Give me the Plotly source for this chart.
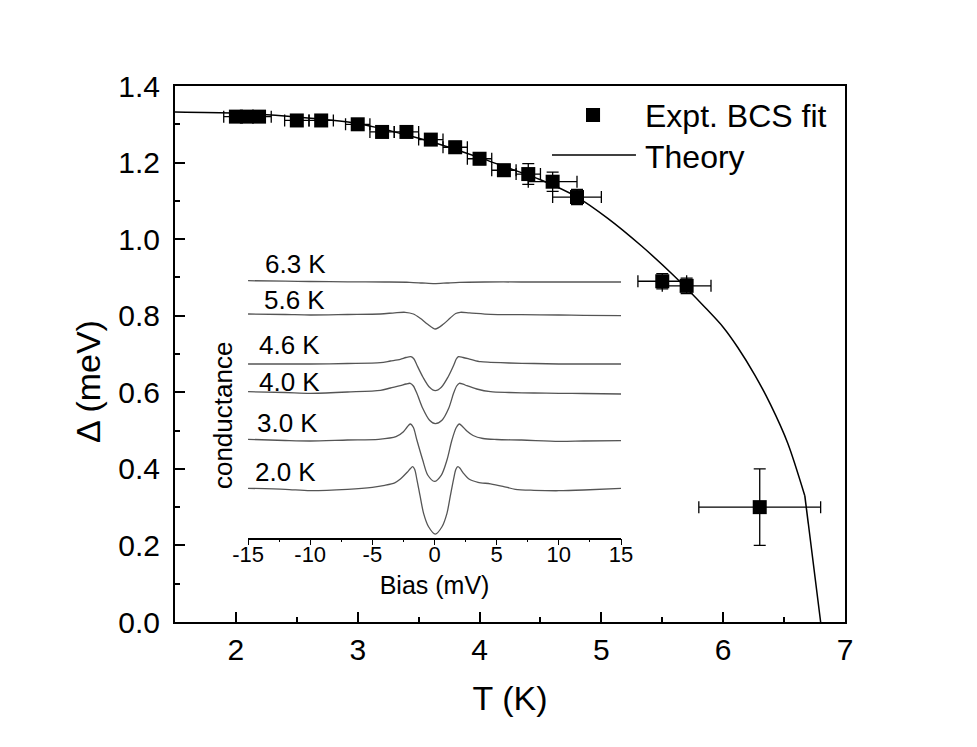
import plotly.graph_objects as go

# ---------------- main panel data ----------------
T_expt = [2.0, 2.09, 2.19, 2.5, 2.7, 3.0, 3.2, 3.4, 3.6, 3.8, 4.0, 4.2, 4.4, 4.6, 4.8, 5.5, 5.7, 6.3]
D_expt = [1.32, 1.32, 1.32, 1.31, 1.31, 1.30, 1.28, 1.28, 1.26, 1.24, 1.21, 1.18, 1.17, 1.15, 1.11, 0.89, 0.878, 0.30]
T_err = [0.1, 0.1, 0.1, 0.1, 0.1, 0.1, 0.1, 0.1, 0.1, 0.1, 0.1, 0.1, 0.1, 0.2, 0.2, 0.2, 0.2, 0.5]
D_err = [0.015, 0.015, 0.015, 0.015, 0.015, 0.015, 0.015, 0.015, 0.015, 0.015, 0.015, 0.015, 0.027, 0.025, 0.02, 0.02, 0.02, 0.1]

# smooth part of the theory curve, then its last straight segment to Tc
T_theory = [1.5, 2.0, 2.5, 3.0, 3.4, 3.65, 4.0, 4.2, 4.5, 4.8, 5.05, 5.33, 5.6, 5.85, 6.0, 6.12, 6.26, 6.39, 6.53, 6.67]
D_theory = [1.332, 1.329, 1.319, 1.302, 1.272, 1.250, 1.213, 1.190, 1.155, 1.110, 1.055, 0.982, 0.903, 0.822, 0.770, 0.717, 0.645, 0.567, 0.467, 0.330]
T_theory_end = [6.67, 6.80]
D_theory_end = [0.330, 0.0]

# ---------------- inset data (normalised conductance) ----------------
bias_20 = [-15, -12, -10, -7, -5, -4, -3.2, -2.77, -2.2, -1.95, -1.77, -1.6, -1.42, -1.15, -0.88, -0.48, 0.06, 0.6, 1.0, 1.26, 1.53, 1.72, 1.88, 2.05, 2.33, 2.8, 3.5, 4.5, 5.5, 6.5, 8, 10, 12, 15]
g_20 = [1.00, 0.99, 0.976, 0.99, 1.01, 1.03, 1.055, 1.09, 1.16, 1.195, 1.216, 1.19, 1.09, 0.916, 0.75, 0.616, 0.543, 0.616, 0.75, 0.916, 1.09, 1.19, 1.216, 1.20, 1.15, 1.09, 1.06, 1.045, 1.02, 0.99, 0.98, 0.976, 0.983, 1.00]

bias_30 = [-15, -12, -10, -7, -4.5, -3.1, -2.5, -2.2, -1.95, -1.7, -1.42, -0.95, -0.55, 0.0, 0.55, 1.0, 1.4, 1.75, 2.0, 2.25, 2.6, 3.1, 3.9, 5, 7, 10, 12, 15]
g_30 = [1.007, 0.995, 0.99, 1.0, 1.007, 1.033, 1.083, 1.13, 1.16, 1.125, 1.0, 0.80, 0.65, 0.587, 0.65, 0.80, 1.0, 1.125, 1.16, 1.135, 1.09, 1.045, 1.015, 1.005, 1.0, 0.987, 0.99, 0.993]

bias_40 = [-15, -12, -10, -7, -4.35, -3.55, -2.75, -2.3, -1.95, -1.7, -1.42, -0.95, -0.4, 0.06, 0.6, 1.14, 1.53, 1.78, 1.99, 2.3, 2.6, 3.4, 4.5, 6, 8, 10, 12, 15]
g_40 = [1.003, 0.995, 0.987, 1.0, 1.016, 1.04, 1.063, 1.08, 1.087, 1.06, 0.987, 0.837, 0.717, 0.683, 0.717, 0.837, 0.987, 1.06, 1.087, 1.078, 1.063, 1.03, 1.003, 0.995, 0.99, 0.987, 0.985, 0.98]

bias_46 = [-15, -12, -10, -7, -4.35, -3.55, -2.75, -2.3, -1.9, -1.65, -1.42, -0.95, -0.4, 0.06, 0.55, 1.1, 1.55, 1.75, 1.93, 2.3, 2.9, 3.7, 4.5, 6, 8, 10, 12, 15]
g_46 = [1.0, 1.0, 1.0, 1.005, 1.013, 1.03, 1.047, 1.065, 1.073, 1.05, 0.99, 0.873, 0.767, 0.733, 0.767, 0.873, 0.99, 1.05, 1.073, 1.065, 1.047, 1.023, 1.017, 1.01, 1.005, 1.0, 1.0, 1.0]

bias_56 = [-15, -12, -10, -7, -4.35, -3.2, -2.36, -1.7, -1.15, -0.55, 0.06, 0.7, 1.24, 1.7, 2.07, 2.8, 4.5, 7, 10, 12, 15]
g_56 = [1.01, 1.005, 1.0, 1.005, 1.01, 1.022, 1.027, 1.01, 0.967, 0.907, 0.86, 0.907, 0.967, 1.015, 1.027, 1.022, 1.007, 1.003, 1.0, 0.997, 0.993]

bias_63 = [-15, -12, -10, -7, -4, -2, -1, 0, 1, 2, 4, 7, 10, 12, 15]
g_63 = [1.013, 1.008, 1.005, 1.002, 1.0, 0.997, 0.99, 0.983, 0.99, 0.997, 1.0, 1.0, 1.0, 1.0, 1.0]

spectra_labels = ["2.0 K", "3.0 K", "4.0 K", "4.6 K", "5.6 K", "6.3 K"]
spectra_bias = [bias_20, bias_30, bias_40, bias_46, bias_56, bias_63]
spectra_g = [g_20, g_30, g_40, g_46, g_56, g_63]
spectra_offset = [0.0, 0.483, 0.963, 1.243, 1.733, 2.063]
label_x = [-14.6, -14.4, -14.3, -14.3, -13.9, -13.8]
label_y = [1.163, 1.653, 2.063, 2.433, 2.883, 3.243]

inset_ticks = [-15, -10, -5, 0, 5, 10, 15]
inset_ticktext = ["-15", "-10", "-5", "0", "5", "10", "15"]

FONT = "Liberation Sans, Arial, Helvetica, sans-serif"

fig = go.Figure()

fig.add_trace(go.Scatter(
    x=T_theory, y=D_theory, mode="lines",
    line=dict(color="black", width=1.5, shape="spline", smoothing=0.8),
    xaxis="x", yaxis="y", showlegend=False, hoverinfo="skip"))
fig.add_trace(go.Scatter(
    x=T_theory_end, y=D_theory_end, mode="lines",
    line=dict(color="black", width=1.5),
    xaxis="x", yaxis="y", showlegend=False, hoverinfo="skip"))

fig.add_trace(go.Scatter(
    x=T_expt, y=D_expt, mode="markers",
    marker=dict(symbol="square", size=14, color="black"),
    error_x=dict(type="data", array=T_err, color="black", thickness=1.3, width=6),
    error_y=dict(type="data", array=D_err, color="black", thickness=1.3, width=6),
    xaxis="x", yaxis="y", showlegend=False, cliponaxis=False))

for b, g, off in zip(spectra_bias, spectra_g, spectra_offset):
    fig.add_trace(go.Scatter(
        x=b, y=[v + off for v in g], mode="lines",
        line=dict(color="#555555", width=1.3, shape="spline", smoothing=0.8),
        xaxis="x2", yaxis="y2", showlegend=False, hoverinfo="skip"))

annotations = []
for lab, lx, ly in zip(spectra_labels, label_x, label_y):
    annotations.append(dict(x=lx, y=ly, xref="x2", yref="y2", text=lab,
                            showarrow=False, xanchor="left", yanchor="middle",
                            font=dict(family=FONT, size=26, color="black")))

annotations.append(dict(x=0.0716, y=0.386, xref="paper", yref="paper", text="conductance",
                        textangle=-90, showarrow=False, xanchor="center", yanchor="middle",
                        font=dict(family=FONT, size=26, color="black")))

# y-axis title of the main panel (placed as in the original, a little below centre)
annotations.append(dict(x=-0.129, y=0.449, xref="paper", yref="paper", text="Δ (meV)",
                        textangle=-90, showarrow=False, xanchor="center", yanchor="middle",
                        font=dict(family=FONT, size=34, color="black")))

# legend
annotations.append(dict(x=0.698, y=0.944, xref="paper", yref="paper", text="Expt. BCS fit",
                        showarrow=False, xanchor="left", yanchor="middle",
                        font=dict(family=FONT, size=32, color="black")))
annotations.append(dict(x=0.698, y=0.867, xref="paper", yref="paper", text="Theory",
                        showarrow=False, xanchor="left", yanchor="middle",
                        font=dict(family=FONT, size=32, color="black")))

shapes = [
    dict(type="rect", xref="paper", yref="paper",
         x0=0.6239 - 0.0105, x1=0.6239 + 0.0105, y0=0.9459 - 0.0131, y1=0.9459 + 0.0131,
         fillcolor="black", line=dict(width=0)),
    dict(type="line", xref="paper", yref="paper", x0=0.5627, x1=0.688, y0=0.8713, y1=0.8713,
         line=dict(color="black", width=1.5)),
]

fig.update_layout(
    width=961, height=731,
    margin=dict(l=167, r=124, t=78, b=117),
    paper_bgcolor="white", plot_bgcolor="white",
    font=dict(family=FONT, color="black"),
    showlegend=False,
    annotations=annotations,
    shapes=shapes,
    xaxis=dict(range=[1.5, 7.0], domain=[0, 1], anchor="y",
               showline=True, linecolor="black", linewidth=2, mirror=True,
               ticks="inside", ticklen=10, tickwidth=1.5, tickcolor="black",
               dtick=1, tick0=0, showgrid=False, zeroline=False,
               minor=dict(dtick=0.5, ticks="inside", ticklen=5, tickwidth=1.5, tickcolor="black", showgrid=False),
               tickfont=dict(size=30), ticklabelstandoff=0,
               title=dict(text="T (K)", font=dict(size=34), standoff=21)),
    yaxis=dict(range=[0, 1.4], domain=[0, 1], anchor="x",
               showline=True, linecolor="black", linewidth=2, mirror=True,
               ticks="inside", ticklen=10, tickwidth=1.5, tickcolor="black",
               dtick=0.2, tick0=0, tickformat=".1f", showgrid=False, zeroline=False,
               minor=dict(dtick=0.1, ticks="inside", ticklen=5, tickwidth=1.5, tickcolor="black", showgrid=False),
               tickfont=dict(size=30), ticklabelstandoff=7),
    xaxis3=dict(range=[1.5, 7.0], overlaying="x", side="top", anchor="y",
                showline=False, ticks="inside", ticklen=8, tickwidth=1.5, tickcolor="black",
                dtick=0.5, tick0=0, showticklabels=False, showgrid=False, zeroline=False),
    yaxis3=dict(range=[0, 1.4], overlaying="y", side="right", anchor="x",
                showline=False, ticks="inside", ticklen=10, tickwidth=1.5, tickcolor="black",
                dtick=0.1, tick0=0, showticklabels=False, showgrid=False, zeroline=False),
    xaxis2=dict(range=[-15, 15], domain=[0.109, 0.6657], anchor="y2",
                showline=True, linecolor="black", linewidth=1.5,
                ticks="outside", ticklen=6, tickwidth=1.2, tickcolor="black",
                tickvals=inset_ticks, ticktext=inset_ticktext,
                minor=dict(dtick=2.5, tick0=0, ticks="outside", ticklen=3, tickwidth=1.2, tickcolor="black", showgrid=False),
                showgrid=False, zeroline=False, tickfont=dict(size=22), ticklabelstandoff=-10,
                title=dict(text="Bias (mV)", font=dict(size=25), standoff=11)),
    yaxis2=dict(range=[0.508, 3.5], domain=[0.1576, 0.7159], anchor="x2",
                visible=False, showgrid=False, zeroline=False),
)

fig.write_html("out.html")
